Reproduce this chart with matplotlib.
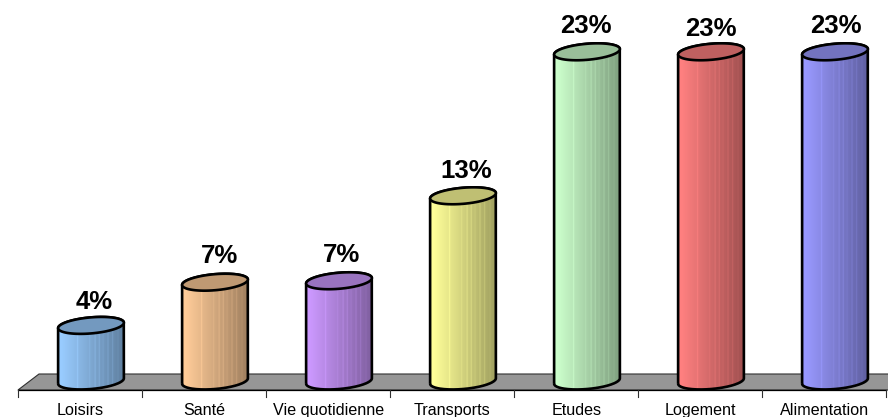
import numpy as np
import matplotlib
matplotlib.use("Agg")
import matplotlib.pyplot as plt
from matplotlib.path import Path
from matplotlib.patches import PathPatch, Polygon
from matplotlib.transforms import IdentityTransform
from matplotlib.colors import to_rgb

categories = ["Loisirs", "Santé", "Vie quotidienne", "Transports", "Etudes", "Logement", "Alimentation"]
values = [4.0, 7.0, 7.1, 13.0, 23.0, 23.0, 23.0]
labels = ["4%", "7%", "7%", "13%", "23%", "23%", "23%"]
colors = ["#99CCFF", "#FFCC99", "#CC99FF", "#FFFF99", "#CCFFCC", "#FF8080", "#9999FF"]
label_dx = [14, 15, 14, 14, 10, 11, 12]
label_dy = [23, 26, 26, 25, 26, 23, 26]

W, H = 888, 417
plt.rcParams["font.family"] = ["Liberation Sans", "DejaVu Sans"]
fig = plt.figure(figsize=(W / 100, H / 100), dpi=100)
ax = fig.add_axes([0, 0, 1, 1])
ax.set_xlim(-0.5 - 18 / 124, -0.5 + (W - 18) / 124)
ax.set_ylim((383 - H) / 14.4, 383 / 14.4)
ax.axis("off")
xlim, ylim = ax.get_xlim(), ax.get_ylim()

ident = IdentityTransform()
def P(i, v):
    return ax.transData.transform((i, v))
def px(x, y):
    return (x, H - y)

# floor
ax.add_patch(Polygon([px(18, 390), px(39, 374), px(890, 374), px(890, 390)], closed=True,
                     transform=ident, fc="#969696", ec="#303030", lw=0.8, zorder=1))
# axis line and ticks
ax.plot([18, 886], [H - 390, H - 390], color="black", lw=0.9, transform=ident, zorder=2)
for k in range(len(categories) + 1):
    x = P(k - 0.5, 0)[0]
    ax.plot([x, x], [H - 390, H - 397], color="#303030", lw=0.8, transform=ident, zorder=2)

A, B, TH = 33.0, 8.0, np.radians(5)
def ell(cx, cy, t):
    return (cx + A * np.cos(t) * np.cos(TH) - B * np.sin(t) * np.sin(TH),
            cy + A * np.cos(t) * np.sin(TH) + B * np.sin(t) * np.cos(TH))

stripes = [0.30, 0.48, 0.56, 0.62, 0.68, 0.75, 0.82, 0.90]
for i, (v, c) in enumerate(zip(values, colors)):
    base = np.array(to_rgb(c))
    cx = P(i, 0)[0] + 11
    top = P(i, v)[1]
    bot = H - 381
    t0 = np.arctan2(-(B / A) * np.tan(TH), 1)
    lo = np.linspace(np.pi + t0, 2 * np.pi + t0, 80)
    bx, by = ell(cx, bot, lo)
    hi = np.linspace(t0, np.pi + t0, 80)
    tx, ty = ell(cx, top, hi)
    body = np.column_stack([np.r_[bx, tx], np.r_[by, ty]])
    path = PathPatch(Path(np.r_[body, body[:1]]), transform=ident, fc="none", ec="none", zorder=3)
    ax.add_patch(path)
    n = 132
    s = np.linspace(0, 1, n)
    shade = 1.0 - 0.38 * np.clip((s - 0.06) / 0.94, 0, 1)
    for st in stripes:
        shade[np.abs(s - st) < 0.006] += 0.08
    img = np.clip(base[None, None, :] * shade[None, :, None], 0, 1)
    inv = ax.transData.inverted()
    (x0, y0) = inv.transform((cx - A - 1, bot - 12))
    (x1, y1) = inv.transform((cx + A + 1, top + 12))
    im = ax.imshow(img, extent=[x0, x1, y0, y1], aspect="auto", interpolation="bilinear", zorder=3)
    im.set_clip_path(path)
    ax.add_patch(PathPatch(Path(np.r_[body, body[:1]]), transform=ident, fc="none", ec="black",
                           lw=1.9, zorder=4))
    t = np.linspace(0, 2 * np.pi, 160)
    ex, ey = ell(cx, top, t)
    ax.add_patch(Polygon(np.column_stack([ex, ey]), closed=True, transform=ident,
                         fc=base * 0.75, ec="black", lw=1.9, zorder=5))
    ax.text(P(i, 0)[0] + label_dx[i], top + label_dy[i], labels[i], transform=ident,
            ha="center", va="center", fontsize=18.5, fontweight="bold", color="black", zorder=6)
    ax.text(P(i, 0)[0] + 0.5, H - 415, categories[i], transform=ident, ha="center", va="baseline",
            fontsize=11.6, color="black", zorder=6)

ax.set_xlim(xlim)
ax.set_ylim(ylim)
fig.savefig("out.png", dpi=100, facecolor="white")
